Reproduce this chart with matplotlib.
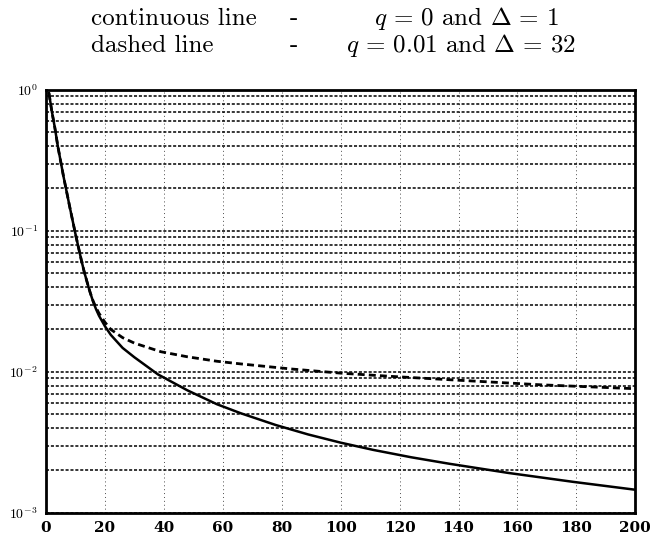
import numpy as np
import matplotlib.pyplot as plt
from matplotlib.ticker import LogLocator, FixedLocator, NullFormatter

plt.rcParams['mathtext.fontset'] = 'cm'

# Data
x_solid = [1, 2, 3, 4, 6, 8, 10, 12, 13, 14, 15, 16, 17, 18, 20, 22, 26,
           30, 38, 48, 58, 66, 78, 89, 100, 111, 124, 137, 157, 179, 200]
y_solid = [0.95, 0.70, 0.54, 0.40, 0.24, 0.15, 0.095, 0.062, 0.051, 0.043,
           0.0365, 0.0315, 0.0278, 0.0250, 0.0211, 0.0183, 0.0148,
           0.0127, 0.0096, 0.0074, 0.0059, 0.0051, 0.0042, 0.0036,
           0.00315, 0.0028, 0.00248, 0.00223, 0.00192, 0.00166, 0.00146]

x_dash = [1, 2, 3, 4, 6, 8, 10, 12, 13, 14, 15, 16, 17, 18, 20, 22, 26,
          30, 39, 48, 58, 66, 83, 100, 117, 137, 150, 168, 200]
y_dash = [0.95, 0.70, 0.54, 0.40, 0.24, 0.15, 0.095, 0.062, 0.051, 0.043,
          0.0365, 0.0318, 0.0285, 0.0260, 0.0225, 0.0200, 0.0175,
          0.0160, 0.0139, 0.0128, 0.0119, 0.0114, 0.0105, 0.0098,
          0.0093, 0.0088, 0.0085, 0.0081, 0.0076]

x_ticks = [0, 20, 40, 60, 80, 100, 120, 140, 160, 180, 200]
y_ticks = [1e-3, 1e-2, 1e-1, 1e0]
y_labels = [r'$10^{-3}$', r'$10^{-2}$', r'$10^{-1}$', r'$10^{0}$']

fig = plt.figure(figsize=(6.57, 5.48), dpi=100)
ax = fig.add_axes([0.070, 0.064, 0.897, 0.772])

ax.plot(x_solid, y_solid, color='black', linewidth=1.8)
ax.plot(x_dash, y_dash, color='black', linewidth=2.0, linestyle=(0, (2.5, 1.5)))

ax.set_yscale('log')
ax.set_xlim(0, 200)
ax.set_ylim(1e-3, 1e0)

ax.xaxis.set_major_locator(FixedLocator(x_ticks))
ax.set_xticklabels([str(v) for v in x_ticks], family='DejaVu Serif',
                   fontweight='bold', fontsize=11)
ax.yaxis.set_major_locator(FixedLocator(y_ticks))
ax.set_yticklabels(y_labels, fontsize=10)
ax.yaxis.set_minor_locator(LogLocator(base=10, subs=range(2, 10)))
ax.yaxis.set_minor_formatter(NullFormatter())
ax.tick_params(which='both', length=0, pad=6)

# dense dotted horizontal grid, faint dotted verticals
ax.grid(True, which='both', axis='y', color='black',
        linestyle=(0, (2, 1.2)), linewidth=1.1)
ax.grid(True, which='major', axis='x', color='black',
        linestyle=(0, (1, 3)), linewidth=0.7, alpha=0.7)

for s in ax.spines.values():
    s.set_linewidth(2.0)

# legend text above the plot
fig.text(0.138, 0.954, 'continuous line', family='cmr10', fontsize=18, va='baseline')
fig.text(0.441, 0.954, '-', family='cmr10', fontsize=18, va='baseline')
fig.text(0.710, 0.954, r'$q\,=\,0$ and $\Delta\,=\,1$', family='cmr10',
         fontsize=18, va='baseline', ha='center')
fig.text(0.138, 0.905, 'dashed line', family='cmr10', fontsize=18, va='baseline')
fig.text(0.441, 0.905, '-', family='cmr10', fontsize=18, va='baseline')
fig.text(0.702, 0.905, r'$q\,=\,0.01$ and $\Delta\,=\,32$', family='cmr10',
         fontsize=18, va='baseline', ha='center')

fig.savefig('out.png', dpi=100)
